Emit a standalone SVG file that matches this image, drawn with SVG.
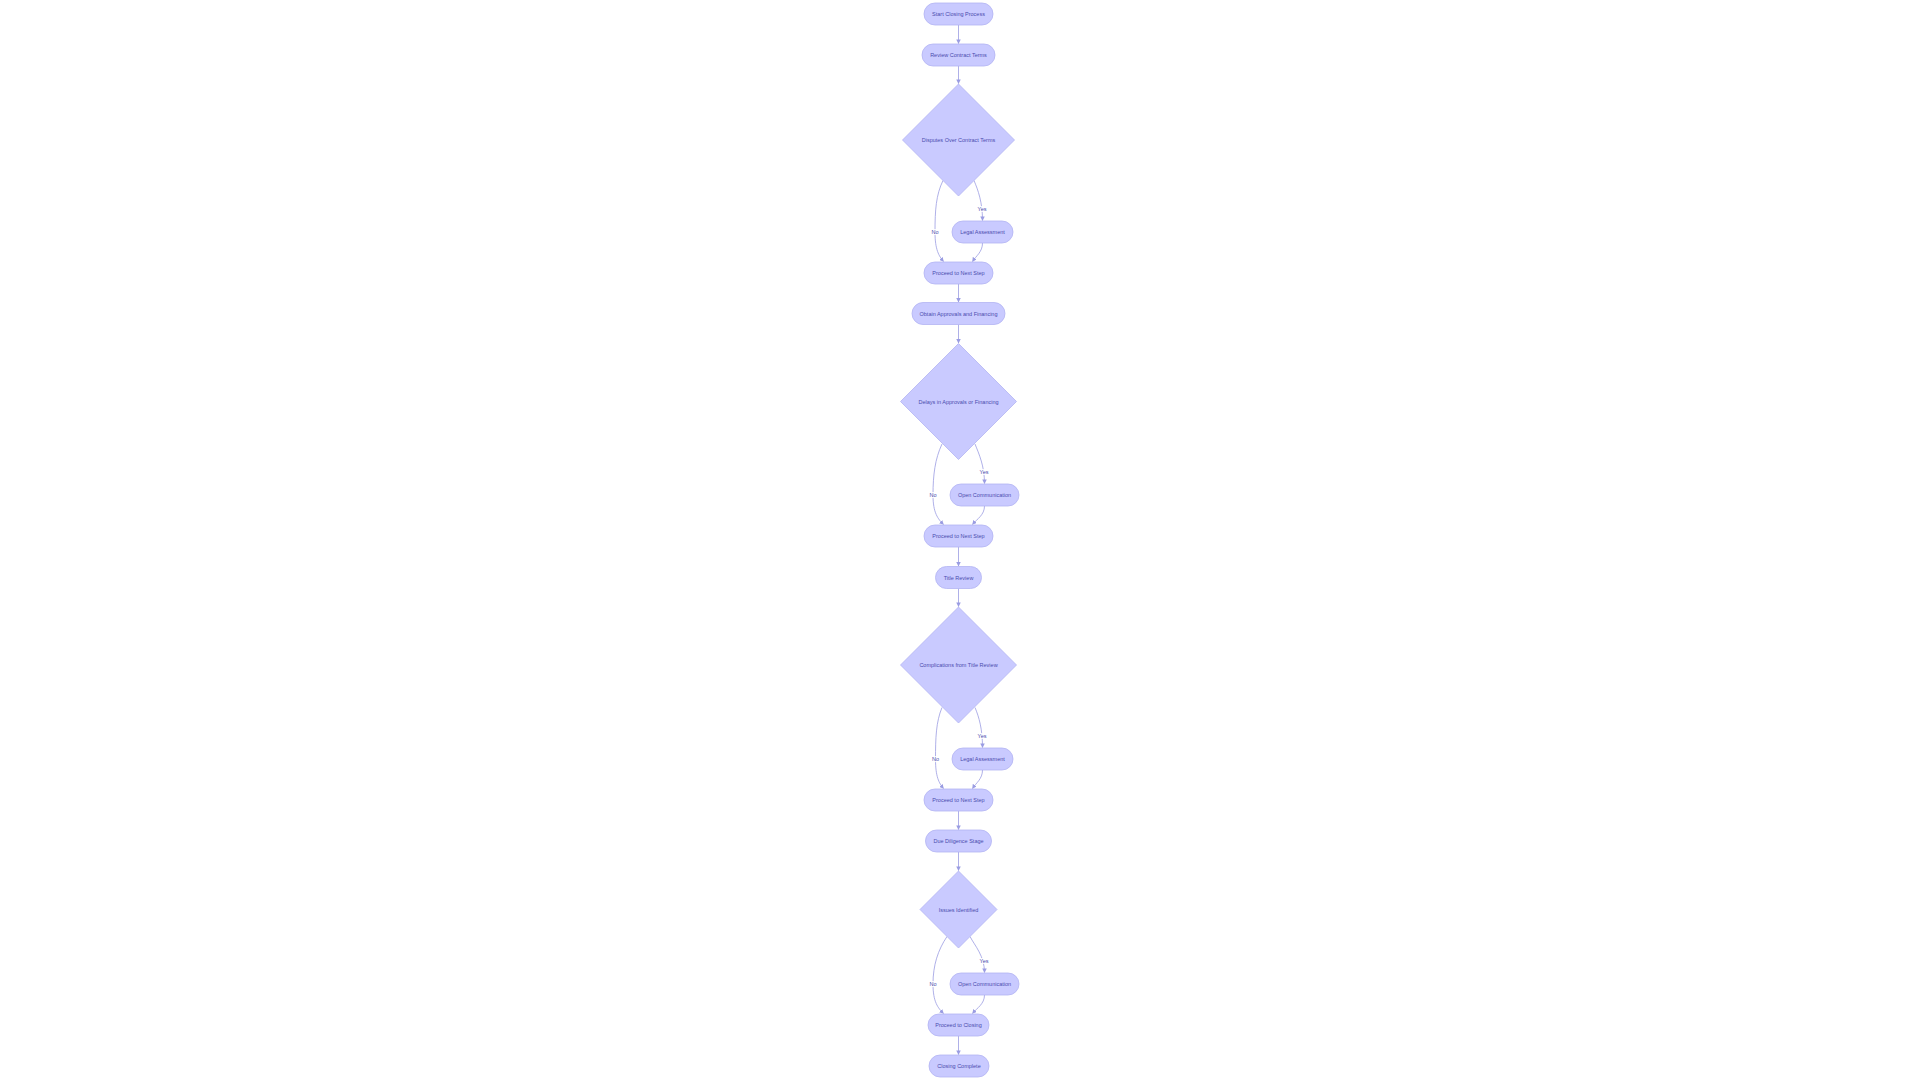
<svg xmlns="http://www.w3.org/2000/svg" width="1920" height="1080" viewBox="0 0 1920 1080">
<defs>
<marker id="arr" viewBox="0 0 10 10" refX="9" refY="5" markerWidth="4.5" markerHeight="4.5" markerUnits="userSpaceOnUse" orient="auto">
<path d="M0,0 L10,5 L0,10 z" fill="#9A9CE2"/>
</marker>
<style>
.n{fill:#C9CAFF;stroke:#B2B4F2;stroke-width:0.8}
.t{font-family:"Liberation Sans",Arial,sans-serif;font-size:5.5px;fill:#4A4AAE;text-anchor:middle;dominant-baseline:central}
.e{fill:none;stroke:#9A9CE2;stroke-width:0.8;marker-end:url(#arr)}
.lb{fill:#FFFFFF;opacity:0.85}
</style>
</defs>
<rect width="1920" height="1080" fill="#FFFFFF"/>
<g id="connectors">
<path class="e" d="M958.5,25 L958.5,43.5"/>
<path class="e" d="M958.5,66 L958.5,83.5"/>
<path class="e" d="M974,180.5 C978,190 982.5,202 982.5,220.5"/>
<path class="e" d="M943,180.5 C936,195 935,210 935,232 C935,250 939,256 943.5,261.5"/>
<path class="e" d="M982.5,243 C982.5,252 976,256 972.5,261.5"/>
<path class="e" d="M958.5,284 L958.5,302"/>
<path class="e" d="M958.5,324.5 L958.5,343"/>
<path class="e" d="M975,444 C979,454 984.5,466 984.5,483.5"/>
<path class="e" d="M942,444 C935,459 933,475 933,495 C933,513 938,519 943.5,524.5"/>
<path class="e" d="M984.5,506 C984.5,515 977,519 972.5,524.5"/>
<path class="e" d="M958.5,547 L958.5,566"/>
<path class="e" d="M958.5,588.5 L958.5,606.5"/>
<path class="e" d="M975,707.5 C979,717 982.5,729 982.5,747.5"/>
<path class="e" d="M942,707.5 C936,722 935.5,738 935.5,759 C935.5,777 939,783 943.5,788.5"/>
<path class="e" d="M982.5,770 C982.5,779 976,783 972.5,788.5"/>
<path class="e" d="M958.5,811 L958.5,829.5"/>
<path class="e" d="M958.5,852 L958.5,870.5"/>
<path class="e" d="M970,936.5 C975,946 984.5,956 984.5,972.5"/>
<path class="e" d="M947,936.5 C938,950 933,965 933,984 C933,1002 938,1008 943.5,1013.5"/>
<path class="e" d="M984.5,995 C984.5,1004 977,1008 972.5,1013.5"/>
<path class="e" d="M958.5,1036 L958.5,1054.5"/>
</g>
<g id="edge-labels">
<rect class="lb" x="977" y="206" width="10" height="6"/><text class="t" x="982" y="209">Yes</text>
<rect class="lb" x="931" y="229" width="8" height="6"/><text class="t" x="935" y="232">No</text>
<rect class="lb" x="979" y="469" width="10" height="6"/><text class="t" x="984" y="472">Yes</text>
<rect class="lb" x="929" y="492" width="8" height="6"/><text class="t" x="933" y="495">No</text>
<rect class="lb" x="977" y="733" width="10" height="6"/><text class="t" x="982" y="736">Yes</text>
<rect class="lb" x="931.5" y="756" width="8" height="6"/><text class="t" x="935.5" y="759">No</text>
<rect class="lb" x="979" y="958" width="10" height="6"/><text class="t" x="984" y="961">Yes</text>
<rect class="lb" x="929" y="981" width="8" height="6"/><text class="t" x="933" y="984">No</text>
</g>
<g id="start"><rect class="n" x="924" y="3" width="69" height="22" rx="11"/><text class="t" x="958.5" y="14">Start Closing Process</text></g>
<g id="review"><rect class="n" x="922" y="44" width="73" height="22" rx="11"/><text class="t" x="958.5" y="55">Review Contract Terms</text></g>
<g id="d1"><polygon class="n" points="958.5,84 1014.5,140 958.5,196 902.5,140"/><text class="t" x="958.5" y="140">Disputes Over Contract Terms</text></g>
<g id="legal1"><rect class="n" x="952" y="221" width="61" height="22" rx="11"/><text class="t" x="982.5" y="232">Legal Assessment</text></g>
<g id="proceed1"><rect class="n" x="924" y="262" width="69" height="22" rx="11"/><text class="t" x="958.5" y="273">Proceed to Next Step</text></g>
<g id="obtain"><rect class="n" x="912" y="302.5" width="93" height="22" rx="11"/><text class="t" x="958.5" y="313.5">Obtain Approvals and Financing</text></g>
<g id="d2"><polygon class="n" points="958.5,343.5 1016.5,401.5 958.5,459.5 900.5,401.5"/><text class="t" x="958.5" y="401.5">Delays in Approvals or Financing</text></g>
<g id="open1"><rect class="n" x="950" y="484" width="69" height="22" rx="11"/><text class="t" x="984.5" y="495">Open Communication</text></g>
<g id="proceed2"><rect class="n" x="924" y="525" width="69" height="22" rx="11"/><text class="t" x="958.5" y="536">Proceed to Next Step</text></g>
<g id="title"><rect class="n" x="935.5" y="566.5" width="46" height="22" rx="11"/><text class="t" x="958.5" y="577.5">Title Review</text></g>
<g id="d3"><polygon class="n" points="958.5,607 1016.5,665 958.5,723 900.5,665"/><text class="t" x="958.5" y="665">Complications from Title Review</text></g>
<g id="legal2"><rect class="n" x="952" y="748" width="61" height="22" rx="11"/><text class="t" x="982.5" y="759">Legal Assessment</text></g>
<g id="proceed3"><rect class="n" x="924" y="789" width="69" height="22" rx="11"/><text class="t" x="958.5" y="800">Proceed to Next Step</text></g>
<g id="due"><rect class="n" x="925.5" y="830" width="66" height="22" rx="11"/><text class="t" x="958.5" y="841">Due Diligence Stage</text></g>
<g id="d4"><polygon class="n" points="958.5,871 997,909.5 958.5,948 920,909.5"/><text class="t" x="958.5" y="909.5">Issues Identified</text></g>
<g id="open2"><rect class="n" x="950" y="973" width="69" height="22" rx="11"/><text class="t" x="984.5" y="984">Open Communication</text></g>
<g id="proceedClosing"><rect class="n" x="928" y="1014" width="61" height="22" rx="11"/><text class="t" x="958.5" y="1025">Proceed to Closing</text></g>
<g id="complete"><rect class="n" x="929" y="1055" width="60" height="22" rx="11"/><text class="t" x="959" y="1066">Closing Complete</text></g>
</svg>
